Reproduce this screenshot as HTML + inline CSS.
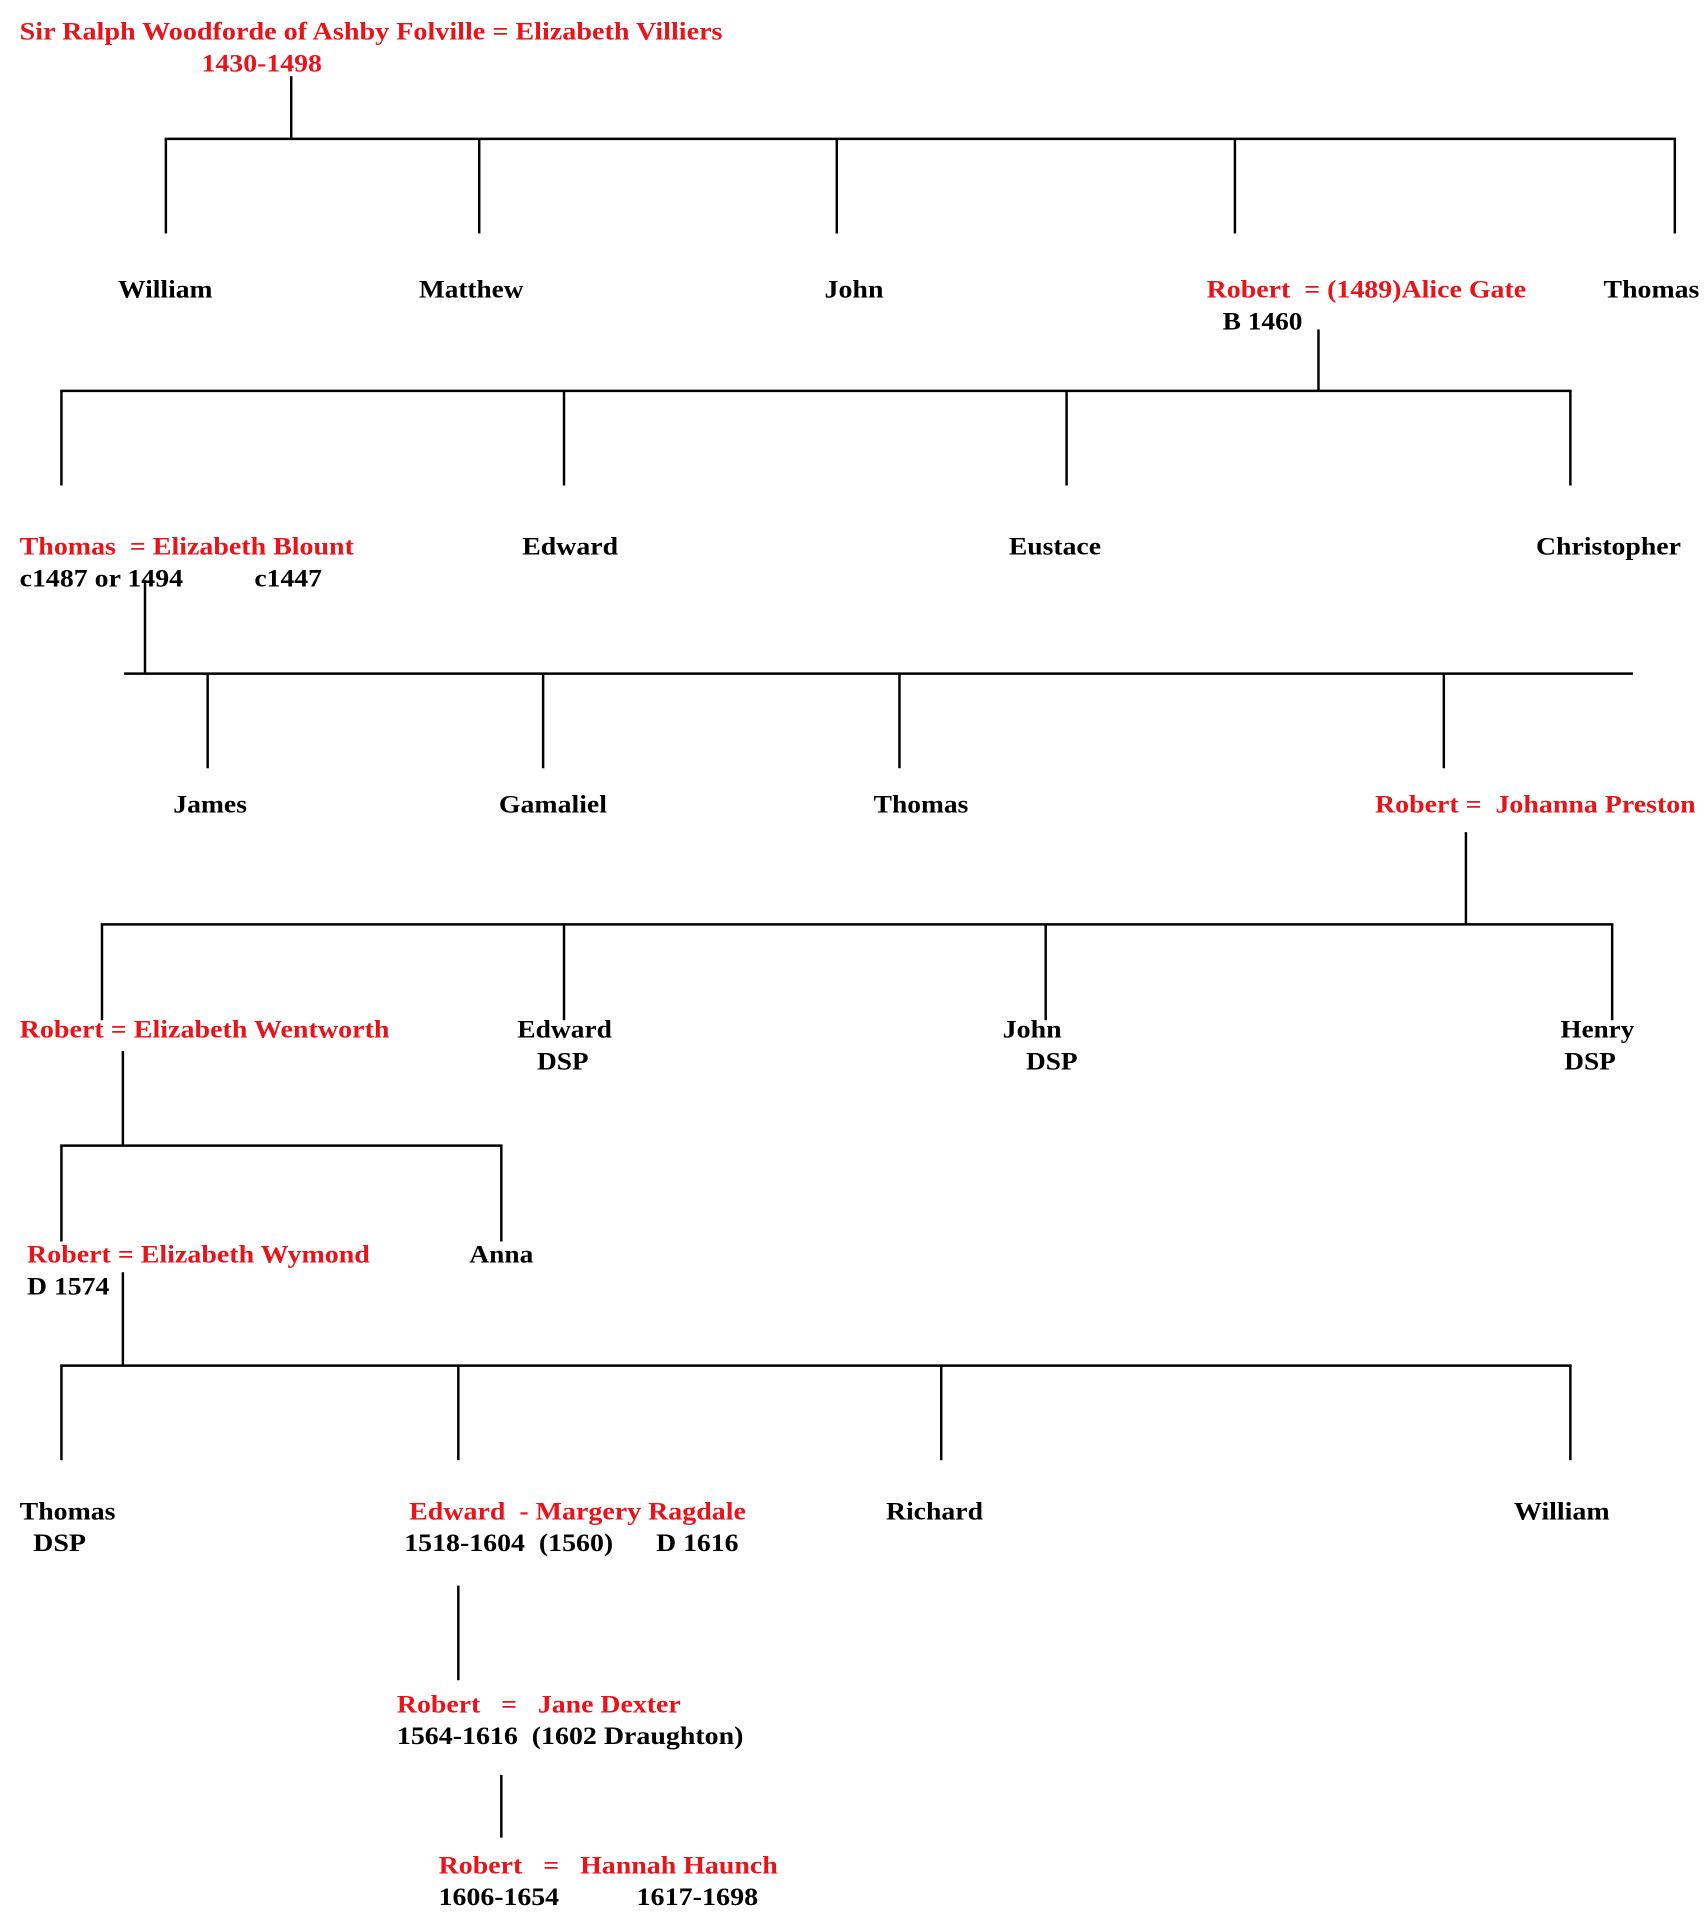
<!DOCTYPE html>
<html><head><meta charset="utf-8"><style>
html,body{margin:0;padding:0;background:#fff;}
svg{display:block;}
text{font-family:"Liberation Serif",serif;font-weight:bold;font-size:21px;white-space:pre;}
.r{fill:#e8141a;}
.k{fill:#000;}
line{stroke:#000;stroke-width:2;}
</style></head><body>
<svg width="1708" height="1920" viewBox="0 0 1390 1562" preserveAspectRatio="none" xmlns="http://www.w3.org/2000/svg">
<g>
<line x1="237" y1="62" x2="237" y2="113"/>
<line x1="134" y1="113" x2="1364" y2="113"/>
<line x1="135" y1="113" x2="135" y2="190"/>
<line x1="390" y1="113" x2="390" y2="190"/>
<line x1="681" y1="113" x2="681" y2="190"/>
<line x1="1005" y1="113" x2="1005" y2="190"/>
<line x1="1363" y1="113" x2="1363" y2="190"/>

<line x1="1073" y1="268" x2="1073" y2="318"/>
<line x1="49" y1="318" x2="1279" y2="318"/>
<line x1="50" y1="318" x2="50" y2="395"/>
<line x1="459" y1="318" x2="459" y2="395"/>
<line x1="868" y1="318" x2="868" y2="395"/>
<line x1="1278" y1="318" x2="1278" y2="395"/>

<line x1="118" y1="472" x2="118" y2="548"/>
<line x1="101" y1="548" x2="1329" y2="548"/>
<line x1="169" y1="548" x2="169" y2="625"/>
<line x1="442" y1="548" x2="442" y2="625"/>
<line x1="732" y1="548" x2="732" y2="625"/>
<line x1="1175" y1="548" x2="1175" y2="625"/>

<line x1="1193" y1="677" x2="1193" y2="752"/>
<line x1="82" y1="752" x2="1313" y2="752"/>
<line x1="83" y1="752" x2="83" y2="830"/>
<line x1="459" y1="752" x2="459" y2="830"/>
<line x1="851" y1="752" x2="851" y2="830"/>
<line x1="1312" y1="752" x2="1312" y2="830"/>

<line x1="100" y1="855" x2="100" y2="932"/>
<line x1="49" y1="932" x2="409" y2="932"/>
<line x1="50" y1="932" x2="50" y2="1010"/>
<line x1="408" y1="932" x2="408" y2="1010"/>

<line x1="100" y1="1035" x2="100" y2="1111"/>
<line x1="49" y1="1111" x2="1279" y2="1111"/>
<line x1="50" y1="1111" x2="50" y2="1188"/>
<line x1="373" y1="1111" x2="373" y2="1188"/>
<line x1="766" y1="1111" x2="766" y2="1188"/>
<line x1="1278" y1="1111" x2="1278" y2="1188"/>

<line x1="373" y1="1290" x2="373" y2="1367"/>
<line x1="408" y1="1444" x2="408" y2="1495"/>
</g>

<text class="r" x="16" y="32" textLength="572" lengthAdjust="spacingAndGlyphs">Sir Ralph Woodforde of Ashby Folville = Elizabeth Villiers</text>
<text class="r" x="164" y="58" textLength="98" lengthAdjust="spacingAndGlyphs">1430-1498</text>

<text class="k" x="96" y="242" textLength="77" lengthAdjust="spacingAndGlyphs">William</text>
<text class="k" x="341" y="242" textLength="85" lengthAdjust="spacingAndGlyphs">Matthew</text>
<text class="k" x="671" y="242" textLength="48" lengthAdjust="spacingAndGlyphs">John</text>
<text class="r" x="982" y="242" textLength="260" lengthAdjust="spacingAndGlyphs">Robert  = (1489)Alice Gate</text>
<text class="k" x="1305" y="242" textLength="78" lengthAdjust="spacingAndGlyphs">Thomas</text>
<text class="k" x="995" y="268" textLength="65" lengthAdjust="spacingAndGlyphs">B 1460</text>

<text class="r" x="16" y="451" textLength="272" lengthAdjust="spacingAndGlyphs">Thomas  = Elizabeth Blount</text>
<text class="k" x="425" y="451" textLength="78" lengthAdjust="spacingAndGlyphs">Edward</text>
<text class="k" x="821" y="451" textLength="75" lengthAdjust="spacingAndGlyphs">Eustace</text>
<text class="k" x="1250" y="451" textLength="118" lengthAdjust="spacingAndGlyphs">Christopher</text>
<text class="k" x="16" y="477" textLength="133" lengthAdjust="spacingAndGlyphs">c1487 or 1494</text>
<text class="k" x="207" y="477" textLength="55" lengthAdjust="spacingAndGlyphs">c1447</text>

<text class="k" x="141" y="661" textLength="60" lengthAdjust="spacingAndGlyphs">James</text>
<text class="k" x="406" y="661" textLength="88" lengthAdjust="spacingAndGlyphs">Gamaliel</text>
<text class="k" x="711" y="661" textLength="77" lengthAdjust="spacingAndGlyphs">Thomas</text>
<text class="r" x="1119" y="661" textLength="261" lengthAdjust="spacingAndGlyphs">Robert =  Johanna Preston</text>

<text class="r" x="16" y="844" textLength="301" lengthAdjust="spacingAndGlyphs">Robert = Elizabeth Wentworth</text>
<text class="k" x="421" y="844" textLength="77" lengthAdjust="spacingAndGlyphs">Edward</text>
<text class="k" x="437" y="870" textLength="42" lengthAdjust="spacingAndGlyphs">DSP</text>
<text class="k" x="816" y="844" textLength="48" lengthAdjust="spacingAndGlyphs">John</text>
<text class="k" x="835" y="870" textLength="42" lengthAdjust="spacingAndGlyphs">DSP</text>
<text class="k" x="1270" y="844" textLength="60" lengthAdjust="spacingAndGlyphs">Henry</text>
<text class="k" x="1273" y="870" textLength="42" lengthAdjust="spacingAndGlyphs">DSP</text>

<text class="r" x="22" y="1027" textLength="279" lengthAdjust="spacingAndGlyphs">Robert = Elizabeth Wymond</text>
<text class="k" x="382" y="1027" textLength="52" lengthAdjust="spacingAndGlyphs">Anna</text>
<text class="k" x="22" y="1053" textLength="67" lengthAdjust="spacingAndGlyphs">D 1574</text>

<text class="k" x="16" y="1236" textLength="78" lengthAdjust="spacingAndGlyphs">Thomas</text>
<text class="k" x="27" y="1262" textLength="43" lengthAdjust="spacingAndGlyphs">DSP</text>
<text class="r" x="333" y="1236" textLength="274" lengthAdjust="spacingAndGlyphs">Edward  - Margery Ragdale</text>
<text class="k" x="329" y="1262" textLength="170" lengthAdjust="spacingAndGlyphs">1518-1604  (1560)</text>
<text class="k" x="534" y="1262" textLength="67" lengthAdjust="spacingAndGlyphs">D 1616</text>
<text class="k" x="721" y="1236" textLength="79" lengthAdjust="spacingAndGlyphs">Richard</text>
<text class="k" x="1232" y="1236" textLength="78" lengthAdjust="spacingAndGlyphs">William</text>

<text class="r" x="323" y="1393" textLength="231" lengthAdjust="spacingAndGlyphs">Robert   =   Jane Dexter</text>
<text class="k" x="323" y="1419" textLength="282" lengthAdjust="spacingAndGlyphs">1564-1616  (1602 Draughton)</text>

<text class="r" x="357" y="1524" textLength="276" lengthAdjust="spacingAndGlyphs">Robert   =   Hannah Haunch</text>
<text class="k" x="357" y="1550" textLength="98" lengthAdjust="spacingAndGlyphs">1606-1654</text>
<text class="k" x="518" y="1550" textLength="99" lengthAdjust="spacingAndGlyphs">1617-1698</text>
</svg>
</body></html>
